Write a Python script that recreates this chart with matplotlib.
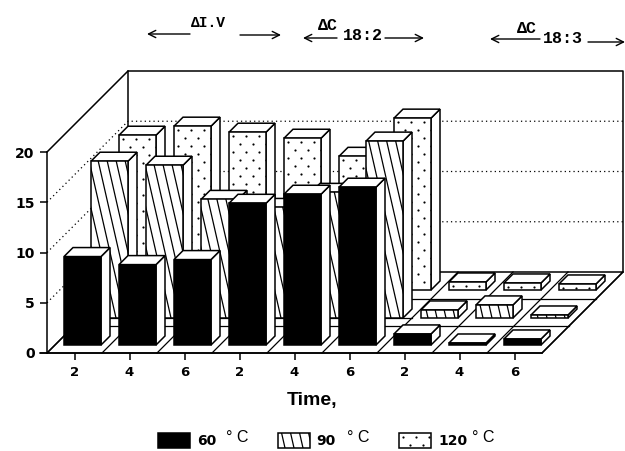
import matplotlib as mpl
mpl.use('Agg')
import matplotlib.pyplot as plt
from matplotlib.patches import Polygon
import numpy as np

# one slot per time, three groups of three
time_labels = ['2', '4', '6', '2', '4', '6', '2', '4', '6']
y_ticks = [0, 5, 10, 15, 20]

# bars of the back row go behind everything
temp_60 = [8.8, 8.0, 8.5, 14.1, 15.0, 15.7, 1.1, 0.2, 0.6]
temp_90 = [15.6, 15.2, 11.8, 11.0, 12.5, 17.6, 0.8, 1.3, 0.3]
temp_120 = [15.4, 16.3, 15.7, 15.1, 13.3, 17.1, 0.8, 0.7, 0.6]

W, H = 625, 451
X0, Y0 = 47, 353      # pixel of slot 0, value 0
XS, YS = 55.0, 10.05  # pixels per slot, per unit
WALL = 81             # depth of the floor in px
ROW = 27              # depth of one row in px
BAR_D = 9             # depth of one bar in px


def px(x, y):
    return (x - X0) / XS, (Y0 - y) / YS


def dep(x, y, d):
    # oblique projection, d is the depth in px
    return x + d / XS, y + d / YS


fig = plt.figure(figsize=(W / 100, H / 100), dpi=100)
ax = fig.add_axes([0, 0, 1, 1])
ax.set_xlim(px(0, 0)[0], px(W, 0)[0])
ax.set_ylim(px(0, H)[1], px(0, 0)[1])
ax.patch.set_alpha(0)

LW = 1.1
n = len(time_labels)

# walls
ax.plot(*zip(dep(0, 0, 0), dep(0, 0, WALL), dep(n, 0, WALL), dep(n, 0, 0), (0, 0)), color='k', lw=LW, zorder=1)
ax.plot(*zip(dep(0, 20, 0), dep(0, 20, WALL), dep(n, 20, WALL), dep(n, 0, WALL)), color='k', lw=LW, zorder=1)
ax.plot(*zip(dep(0, 0, WALL), dep(0, 20, WALL)), color='k', lw=LW, zorder=1)
for v in y_ticks[1:-1]:
    ax.plot(*zip(dep(0, v, 0), dep(0, v, WALL), dep(n, v, WALL)), color='k', lw=0.9, ls=(0, (1, 2.5)), zorder=1)

# floor lines
for i in range(n + 1):
    ax.plot(*zip(dep(i, 0, 0), dep(i, 0, WALL)), color='k', lw=0.9, zorder=1)
for r in [1, 2]:
    ax.plot(*zip(dep(0, 0, ROW * r), dep(n, 0, ROW * r)), color='k', lw=0.9, zorder=1)
ax.plot(*zip(dep(0.2, 0, 35), dep(6, 0, 35)), color='k', lw=0.9, zorder=1)


def fill_face(pts, style, z):
    face = Polygon(pts, closed=True, facecolor='k' if style == 'solid' else 'w',
                   edgecolor='k', lw=LW, zorder=z)
    ax.add_patch(face)
    xs = [(p[0] * XS + X0) for p in pts]
    ys = [(Y0 - p[1] * YS) for p in pts]
    if style == 'hatch':
        h = max(ys) - min(ys)
        shift = h * 0.228
        for s in np.arange(min(xs) - shift - 2, max(xs) + 2, 9.0):
            a = px(s, min(ys))
            b = px(s + shift, max(ys))
            ln, = ax.plot([a[0], b[0]], [a[1], b[1]], color='k', lw=0.9, zorder=z)
            ln.set_clip_path(face)
    if style == 'dots':
        gx, gy = [], []
        for j, yy in enumerate(np.arange(min(ys) + 4, max(ys), 8)):
            for xx in np.arange(min(xs) + 4 + (j % 2) * 6.5, max(xs), 13):
                p = px(xx, yy)
                gx.append(p[0])
                gy.append(p[1])
        sc = ax.scatter(gx, gy, s=2.5, color='k', linewidths=0, zorder=z)
        sc.set_clip_path(face)


def draw_bar(slot, value, d, style, z):
    left = slot + 9 / XS
    right = slot + 46 / XS
    front = [dep(left, 0, d), dep(right, 0, d), dep(right, value, d), dep(left, value, d)]
    side = [dep(right, 0, d), dep(right, 0, d + BAR_D), dep(right, value, d + BAR_D), dep(right, value, d)]
    top = [dep(left, value, d), dep(right, value, d), dep(right, value, d + BAR_D), dep(left, value, d + BAR_D)]
    ax.add_patch(Polygon(side, closed=True, facecolor='w', edgecolor='k', lw=LW, zorder=z))
    ax.add_patch(Polygon(top, closed=True, facecolor='w', edgecolor='k', lw=LW, zorder=z))
    fill_face(front, style, z)


z = 2
for vals, d, style in [(temp_120, 63, 'dots'), (temp_90, 35, 'hatch'), (temp_60, 8, 'solid')]:
    for i, v in enumerate(vals):
        draw_bar(i, v, d, style, z)
        z += 1

# axes
for s in ['top', 'right']:
    ax.spines[s].set_visible(False)
ax.spines['left'].set_position(('data', 0))
ax.spines['bottom'].set_position(('data', 0))
ax.spines['left'].set_bounds(0, 20)
ax.spines['bottom'].set_bounds(-0.12, n)
ax.spines['left'].set_zorder(z)
ax.spines['bottom'].set_zorder(z)
ax.spines['left'].set_linewidth(LW)
ax.spines['bottom'].set_linewidth(LW)
ax.set_xticks(np.arange(n) + 0.5)
ax.set_xticklabels(time_labels, fontsize=9.5, fontweight='bold')
ax.set_yticks(y_ticks)
ax.set_yticklabels([str(v) for v in y_ticks], fontsize=10, fontweight='bold')
ax.tick_params(axis='x', direction='out', length=5, width=LW, pad=4)
ax.tick_params(axis='y', direction='out', length=5, width=LW, pad=4)

ax.text(*px(312, 400), 'Time,', ha='center', va='center', fontsize=14,
        fontweight='bold', family='Liberation Sans')

# legend
for x, style, num, c_x, num_x in [(158, 'solid', '60', 237, 197), (278, 'hatch', '90', 358, 316), (399, 'dots', '120', 483, 438)]:
    fill_face([px(x, 448), px(x + 32, 448), px(x + 32, 433), px(x, 433)], style, z)
    ax.text(*px(num_x, 441), num, ha='left', va='center', fontsize=10, fontweight='bold')
    ax.text(*px(c_x, 438), '° C', ha='center', va='center', fontsize=11.5, family='Liberation Sans')


# heading labels with arrows
def arrow(x1, x2, y):
    ax.annotate('', xy=px(x2, y), xytext=px(x1, y),
                arrowprops=dict(arrowstyle='->', color='k', lw=1.0, mutation_scale=13, shrinkA=0, shrinkB=0))


mono = 'Liberation Mono'
arrow(190, 147, 34)
arrow(240, 281, 35)
ax.text(*px(208, 23), 'ΔI.V', ha='center', va='center', fontsize=10.5, family=mono, fontweight='bold')
arrow(337, 303, 38)
arrow(385, 424, 38)
ax.text(*px(328, 25), 'ΔC', ha='center', va='center', fontsize=12, family=mono, fontweight='bold')
ax.text(*px(363, 35), '18:2', ha='center', va='center', fontsize=12, family=mono, fontweight='bold')
arrow(540, 490, 39)
arrow(588, 625, 42)
ax.text(*px(527, 28), 'ΔC', ha='center', va='center', fontsize=12, family=mono, fontweight='bold')
ax.text(*px(563, 38), '18:3', ha='center', va='center', fontsize=12, family=mono, fontweight='bold')

plt.savefig('out.png', dpi=100)
